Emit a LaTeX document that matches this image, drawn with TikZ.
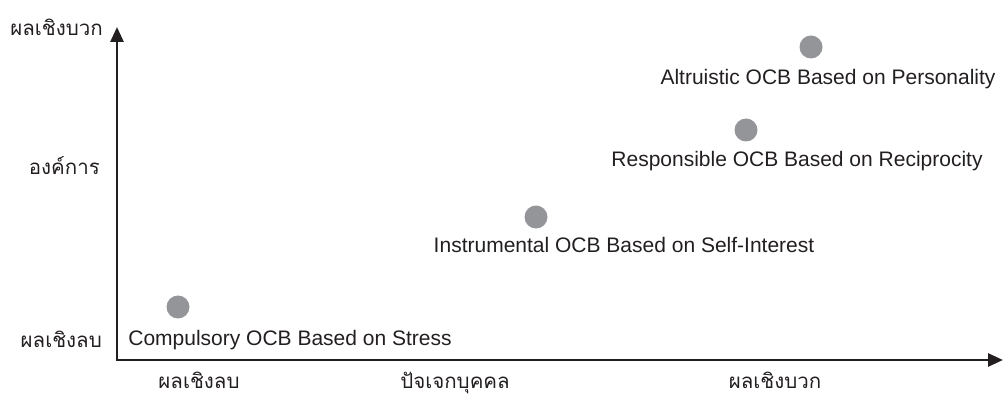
\documentclass[tikz,border=0pt]{standalone}
\usepackage{fontspec}
\setmainfont{Liberation Sans}
\newfontfamily\thaifont[Script=Thai]{Loma}
\usetikzlibrary{arrows.meta}
\definecolor{ink}{HTML}{231F20}
\definecolor{dot}{HTML}{939598}
\tikzset{
  axis/.style={draw=ink, line width=2.7pt, -{Triangle[length=15pt,width=13pt]}},
  pt/.style={circle, fill=dot, minimum size=23pt, inner sep=0pt},
  lab/.style={text=ink, font=\fontsize{21}{24}\selectfont, inner sep=0pt, anchor=base},
  thl/.style={text=ink, font=\thaifont\fontsize{20.5}{24}\selectfont, inner sep=0pt, anchor=base},
}
\begin{document}
\begin{tikzpicture}[x=1pt,y=-1pt]
\useasboundingbox (0,0) rectangle (1004,395);
\coordinate (o) at (117,360);
\coordinate (ytop) at (117,27);
\coordinate (xend) at (1003,360);
\draw[axis] (o) -- (ytop);
\draw[axis] ([xshift=-1.35pt]o) -- (xend);
\node[pt] (p1) at (811,47) {};
\node[pt] (p2) at (746,130) {};
\node[pt] (p3) at (536,217) {};
\node[pt] (p4) at (178,307) {};
\node[lab] (l1) at (828,85) {Altruistic OCB Based on Personality};
\node[lab] (l2) at (797,167) {Responsible OCB Based on Reciprocity};
\node[lab] (l3) at (624,253) {Instrumental OCB Based on Self-Interest};
\node[lab] (l4) at (290,345) {Compulsory OCB Based on Stress};
\node[thl, anchor=base east] (y1) at (103,36) {ผลเชิงบวก};
\node[thl, anchor=base east] (y2) at (100,175) {องค์การ};
\node[thl, anchor=base east] (y3) at (102,347) {ผลเชิงลบ};
\node[thl] (x1) at (199,388) {ผลเชิงลบ};
\node[thl] (x2) at (455,388) {ปัจเจกบุคคล};
\node[thl] (x3) at (775,388) {ผลเชิงบวก};
\end{tikzpicture}
\end{document}
